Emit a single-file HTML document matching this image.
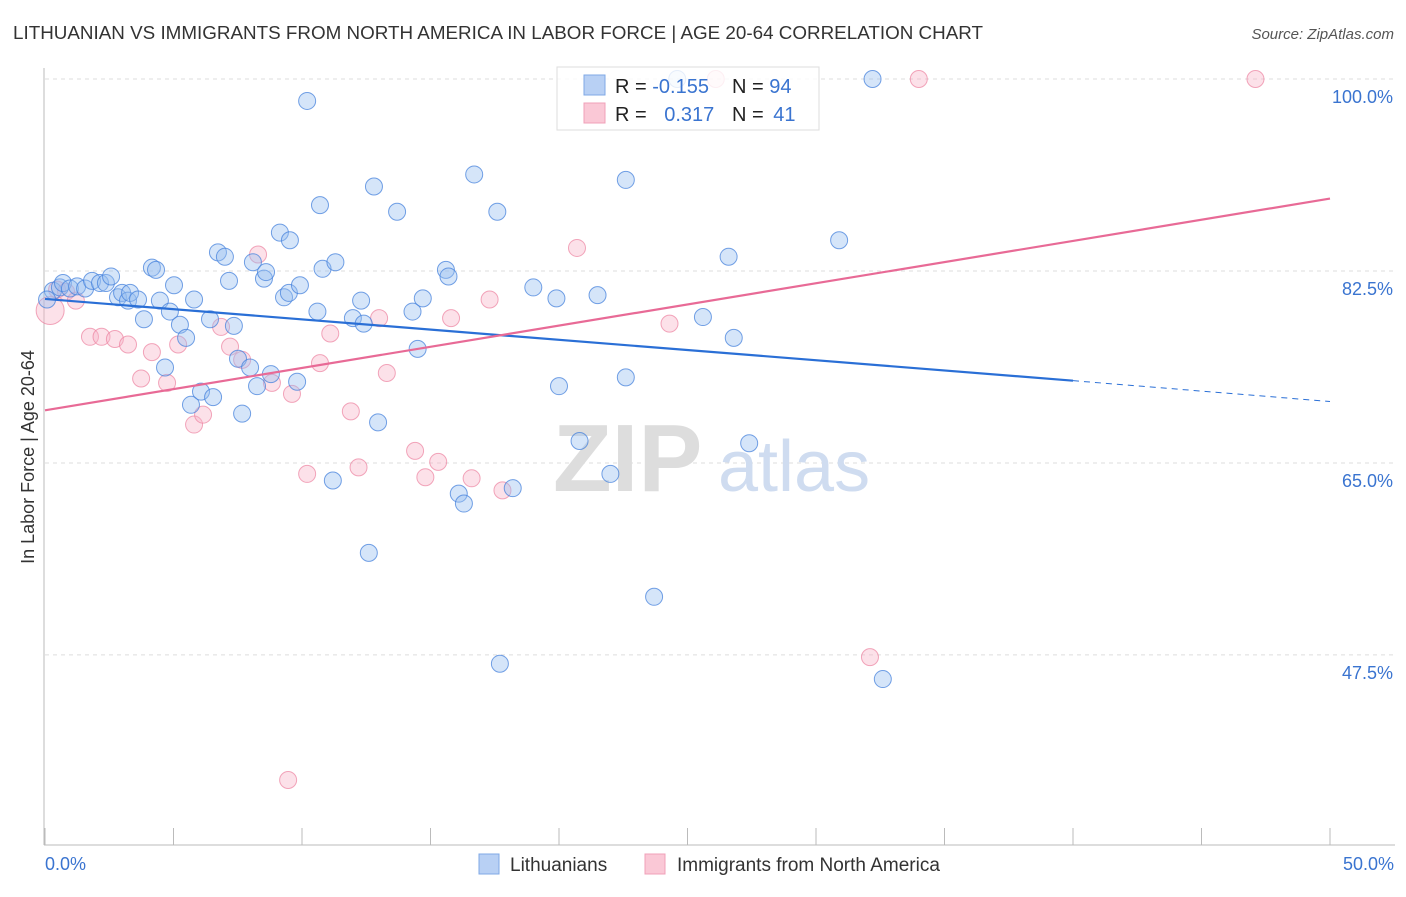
<!DOCTYPE html>
<html><head><meta charset="utf-8"><style>
body{margin:0;background:#fff;font-family:"Liberation Sans",sans-serif;}
svg text{font-family:"Liberation Sans",sans-serif;}
</style></head><body>
<svg id="chart" width="1406" height="892" xmlns="http://www.w3.org/2000/svg">
<text x="13" y="39" font-size="18" fill="#333" textLength="970" lengthAdjust="spacingAndGlyphs">LITHUANIAN VS IMMIGRANTS FROM NORTH AMERICA IN LABOR FORCE | AGE 20-64 CORRELATION CHART</text>
<text x="1394" y="39" font-size="15" fill="#555" text-anchor="end" font-style="italic">Source: ZipAtlas.com</text>
<g id="grid"></g>
<g>
<text x="553" y="491" font-size="96" fill="#ddd" font-family="Liberation Serif" font-weight="bold">ZIP</text>
<text x="718" y="491" font-size="72" fill="#cfdcf0">atlas</text>
</g>
<line x1="44" y1="68" x2="44" y2="845" stroke="#bbb"/>
<line x1="44" y1="845" x2="1395" y2="845" stroke="#bbb"/>
<g id="ticks"></g>
<g id="ylabels"></g>
<text transform="translate(34,457) rotate(-90)" font-size="18" fill="#333" text-anchor="middle">In Labor Force | Age 20-64</text>
<text x="45" y="870" font-size="18" fill="#3a74d0">0.0%</text>
<text x="1394" y="870" font-size="18" fill="#3a74d0" text-anchor="end">50.0%</text>
<g id="pinkpts"></g>
<g id="bluepts"></g>
<g id="lines"></g>
<g>
<rect x="557" y="67" width="262" height="63" fill="#fff" fill-opacity="0.82" stroke="#ddd"/>
<rect x="584" y="75" width="21" height="20" fill="#b8d0f4" stroke="#7fa8e6"/>
<rect x="584" y="103" width="21" height="20" fill="#fac8d6" stroke="#f0a0b8"/>
<text x="615" y="93" font-size="20" fill="#222">R = <tspan fill="#3a74d0">-0.155</tspan></text>
<text x="732" y="93" font-size="20" fill="#222">N = <tspan fill="#3a74d0">94</tspan></text>
<text x="615" y="121" font-size="20" fill="#222">R = <tspan fill="#3a74d0" dx="12">0.317</tspan></text>
<text x="732" y="121" font-size="20" fill="#222">N = <tspan fill="#3a74d0" dx="4">41</tspan></text>
</g>
<g>
<rect x="479" y="854" width="20" height="20" fill="#b8d0f4" stroke="#7fa8e6"/>
<text x="510" y="871" font-size="19" fill="#333">Lithuanians</text>
<rect x="645" y="854" width="20" height="20" fill="#fac8d6" stroke="#f0a0b8"/>
<text x="677" y="871" font-size="19" fill="#333">Immigrants from North America</text>
</g>
</svg>
<script>
const yTicks=[100,82.5,65,47.5];
const yTickLabels=["100.0%","82.5%","65.0%","47.5%"];
const xTicks=[0,5,10,15,20,25,30,35,40,45,50];
const blueX=[0.31,0.58,0.7,0.97,1.25,1.56,1.83,2.14,2.37,2.57,2.84,3.0,3.23,3.31,3.62,3.85,4.16,4.32,4.47,4.86,5.02,5.25,5.49,5.8,4.67,5.68,6.07,6.54,6.42,6.73,7.0,7.16,7.35,7.51,7.67,7.98,8.09,8.25,8.52,8.6,8.79,9.14,9.3,9.49,9.53,9.81,9.92,10.2,10.6,10.7,10.8,11.2,11.3,11.98,12.3,12.4,12.6,12.8,12.96,13.7,14.3,14.5,14.7,15.6,15.7,16.1,16.3,16.7,17.6,17.7,18.2,19.0,19.9,20.0,20.8,21.5,22.0,22.6,22.6,23.7,24.6,25.6,26.6,26.8,27.4,30.9,32.2,32.6,0.08];
const blueY=[80.7,81.0,81.4,80.9,81.1,80.9,81.6,81.4,81.4,82.0,80.1,80.5,79.8,80.5,79.9,78.1,82.8,82.6,79.8,78.8,81.2,77.6,76.4,79.9,73.7,70.3,71.5,71.0,78.1,84.2,83.8,81.6,77.5,74.5,69.5,73.7,83.3,72.0,81.8,82.4,73.1,86.0,80.1,80.5,85.3,72.4,81.2,98.0,78.8,88.5,82.7,63.4,83.3,78.2,79.8,77.7,56.8,90.2,68.7,87.9,78.8,75.4,80.0,82.6,82.0,62.2,61.3,91.3,87.9,46.7,62.7,81.0,80.0,72.0,67.0,80.3,64.0,72.8,90.8,52.8,100,78.3,83.8,76.4,66.8,85.3,100,45.3,79.9];
const pinkX=[0.2,0.47,0.82,1.2,1.75,2.2,2.72,3.23,3.74,4.16,4.75,5.18,5.8,6.15,6.85,7.2,7.67,8.29,8.83,9.61,10.2,10.7,11.1,11.9,12.2,13.0,13.3,14.4,14.8,15.3,15.8,16.6,17.3,17.8,20.7,24.3,26.1,9.46,32.1,34.0,47.1];
const pinkY=[78.9,80.8,80.6,79.8,76.5,76.5,76.3,75.8,72.7,75.1,72.3,75.8,68.5,69.4,77.4,75.6,74.4,84.0,72.3,71.3,64.0,74.1,76.8,69.7,64.6,78.2,73.2,66.1,63.7,65.1,78.2,63.6,79.9,62.5,84.6,77.7,100,36.1,47.3,100,100];
const blueTrend=[[0,79.95],[40,72.5]];
const blueTrendDash=[[40,72.5],[50,70.6]];
const pinkTrend=[[0,69.8],[50,89.1]];
const X=v=>45+v*25.7, Y=v=>79+(100-v)*10.97;
const NS="http://www.w3.org/2000/svg";
function mk(tag,attrs,parent){const e=document.createElementNS(NS,tag);for(const k in attrs)e.setAttribute(k,attrs[k]);document.getElementById(parent).appendChild(e);return e;}
yTicks.forEach((t,i)=>{
 const l=mk('line',{x1:45,x2:1395,y1:Y(t),y2:Y(t),stroke:'#ddd','stroke-dasharray':'4,4'},'grid');
 
 
 const tx=mk('text',{x:1393,y:Y(t)+24,'font-size':18,fill:'#3a74d0','text-anchor':'end'},'ylabels');
 tx.textContent=yTickLabels[i];
 
 
});
xTicks.forEach(t=>{
 const l=mk('line',{x1:X(t),x2:X(t),y1:828,y2:845,stroke:'#bbb'},'ticks');
 
 
});
pinkX.forEach((x,i)=>{
 const c=mk('circle',{cx:X(x),cy:Y(pinkY[i]),r:i==0?14:8.5,fill:'rgba(248,180,200,0.4)',stroke:'rgba(236,130,160,0.7)','stroke-width':1},'pinkpts');
 
 
});
blueX.forEach((x,i)=>{
 const c=mk('circle',{cx:X(x),cy:Y(blueY[i]),r:8.5,fill:'rgba(150,190,240,0.4)',stroke:'rgba(70,130,220,0.75)','stroke-width':1},'bluepts');
 
 
});
function ln(p,col,dash,name){
 const l=mk('line',{x1:X(p[0][0]),y1:Y(p[0][1]),x2:X(p[1][0]),y2:Y(p[1][1]),stroke:col,'stroke-width':dash?1:2.2,'stroke-dasharray':dash?'6,5':'none'},'lines');
 
 
}
ln(blueTrend,'#2a6fd6',false,'lithuanian-trend-line');
ln(blueTrendDash,'#2a6fd6',true,'lithuanian-trend-extension');
ln(pinkTrend,'#e86a96',false,'immigrants-trend-line');
</script>
</body></html>
